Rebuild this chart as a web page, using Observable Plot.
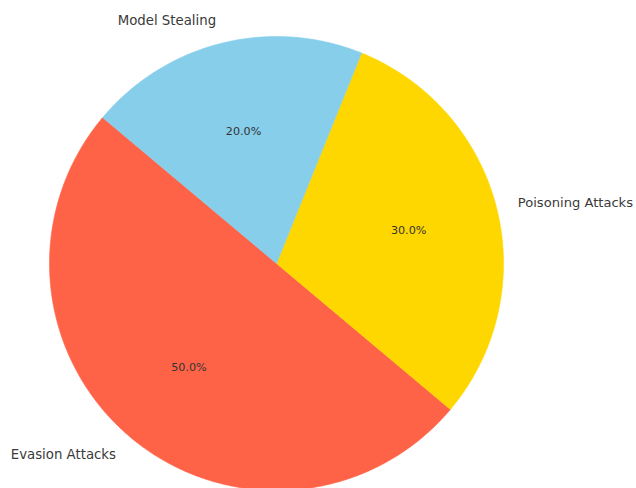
<!DOCTYPE html>
<html><head><meta charset="utf-8">
<script src="https://cdn.jsdelivr.net/npm/d3@7"></script>
<script src="https://cdn.jsdelivr.net/npm/@observablehq/plot@0.6"></script>
<style>
html,body{margin:0;padding:0;overflow:hidden;background:#fff}
</style>
</head><body><div id="chart"></div>
<script>
const categories = ["Evasion Attacks", "Poisoning Attacks", "Model Stealing"];
const shares = [50, 30, 20];
const colors = ["#FF6347", "#FFD700", "#87CEEB"];
const startAngle = 140; // degrees, counterclockwise like matplotlib

const W = 636, H = 488;
const cx = 276, cy = 263, R = 227; // layout of the pie in pixels

// Build slice geometry in unit-radius data coordinates
const total = d3.sum(shares);
let acc = startAngle;
const slices = categories.map((c, i) => {
  const a0 = acc, a1 = acc + 360 * shares[i] / total;
  acc = a1;
  return {category: c, value: shares[i], color: colors[i], a0, a1, mid: (a0 + a1) / 2};
});
const rad = d => d * Math.PI / 180;
function wedge(s) {
  const pts = [{x: 0, y: 0}];
  const n = Math.ceil((s.a1 - s.a0) / 0.5);
  for (let k = 0; k <= n; k++) {
    const a = rad(s.a0 + (s.a1 - s.a0) * k / n);
    pts.push({x: Math.cos(a), y: Math.sin(a)});
  }
  pts.push({x: 0, y: 0});
  return pts;
}
const labelData = slices.map(s => ({
  text: s.category,
  x: 1.1 * Math.cos(rad(s.mid)),
  y: 1.1 * Math.sin(rad(s.mid)),
  anchor: Math.cos(rad(s.mid)) < 0 ? "end" : "start"
}));
const pctData = slices.map(s => ({
  text: (100 * s.value / total).toFixed(1) + "%",
  x: 0.6 * Math.cos(rad(s.mid)),
  y: 0.6 * Math.sin(rad(s.mid))
}));

const font = "DejaVu Sans, sans-serif";
const chart = Plot.plot({
  width: W, height: H,
  margin: 0,
  style: {fontFamily: font, background: "#fff", overflow: "hidden"},
  x: {domain: [-cx / R, (W - cx) / R], axis: null},
  y: {domain: [-(H - cy) / R, cy / R], axis: null},
  marks: [
    ...slices.map(s => Plot.line(wedge(s), {x: "x", y: "y", fill: s.color, stroke: s.color, strokeWidth: 0.6, curve: "linear"})),
    Plot.text(labelData.filter(d => d.anchor === "end"), {x: "x", y: "y", text: "text", textAnchor: "end", fontSize: 13.3, fill: "#3a3a3a"}),
    Plot.text(labelData.filter(d => d.anchor === "start"), {x: "x", y: "y", text: "text", textAnchor: "start", dx: -1, fontSize: 13.1, fill: "#3a3a3a"}),
    Plot.text(pctData, {x: "x", y: "y", text: "text", fontSize: 11.2, fill: "#333"})
  ]
});
document.getElementById("chart").append(chart);
</script>
</body></html>
